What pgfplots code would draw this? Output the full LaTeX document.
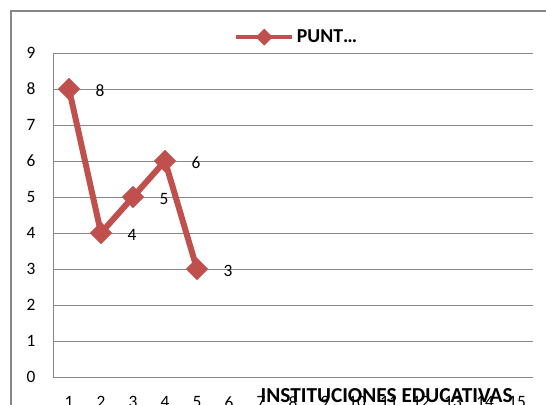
\documentclass[border=0pt]{standalone}
\usepackage{fontspec}
\setmainfont{Carlito}
\usepackage{pgfplots}
\pgfplotsset{compat=1.18}
\definecolor{serred}{HTML}{C0504D}
\definecolor{gridgray}{HTML}{878787}
\begin{document}
\begin{tikzpicture}
\clip (0pt,0pt) rectangle (409.5pt,303pt);
\begin{axis}[
  at={(39.75pt,20.25pt)}, anchor=south west,
  width=360pt, height=243pt, scale only axis,
  xmin=0.5, xmax=15.5, ymin=0, ymax=9,
  xtick={1,...,15}, ytick={0,...,9},
  ymajorgrids,
  grid style={draw=gridgray, line width=0.75pt},
  axis x line*=bottom, axis y line*=left,
  axis line style={draw=gridgray, line width=0.75pt, -},
  major tick length=0pt,
  /pgf/number format/assume math mode=true,
  ticklabel style={font=\fontsize{13}{15}\selectfont},
  xticklabel style={anchor=center, yshift=-19pt},
  yticklabel style={anchor=center, xshift=-16.5pt},
  xlabel={\textbf{INSTITUCIONES EDUCATIVAS}},
  xlabel style={at={(axis description cs:0.695,0)}, anchor=center, yshift=-14.25pt, font=\fontsize{16}{18}\selectfont},
  legend style={at={(axis description cs:0.377,1.049)}, anchor=west, draw=none, fill=none,
    inner sep=0pt, font=\bfseries\fontsize{14.8}{17}\selectfont},
  legend image code/.code={
    \draw[line width=3pt] (0pt,0pt) -- (42pt,0pt);
    \fill (21pt,3.2pt) -- (24.2pt,0pt) -- (21pt,-3.2pt) -- (17.8pt,0pt) -- cycle;
  },
  clip=false,
]
\addplot[color=serred, line width=4.5pt, mark=square*, mark size=5.6pt,
  mark options={solid, rotate=45, line width=0.5pt, fill=serred},
  nodes near coords, point meta=explicit symbolic,
  every node near coord/.append style={anchor=center, xshift=23.25pt, yshift=-1.5pt, text=black, font=\fontsize{13}{15}\selectfont}]
  coordinates {(1,8)[8] (2,4)[4] (3,5)[5] (4,6)[6] (5,3)[3]};
\addlegendentry{PUNT…}
\end{axis}
\draw[gridgray, line width=1.1pt] (8.25pt,-5pt) -- (8.25pt,294.75pt) -- (420pt,294.75pt);
\end{tikzpicture}
\end{document}
